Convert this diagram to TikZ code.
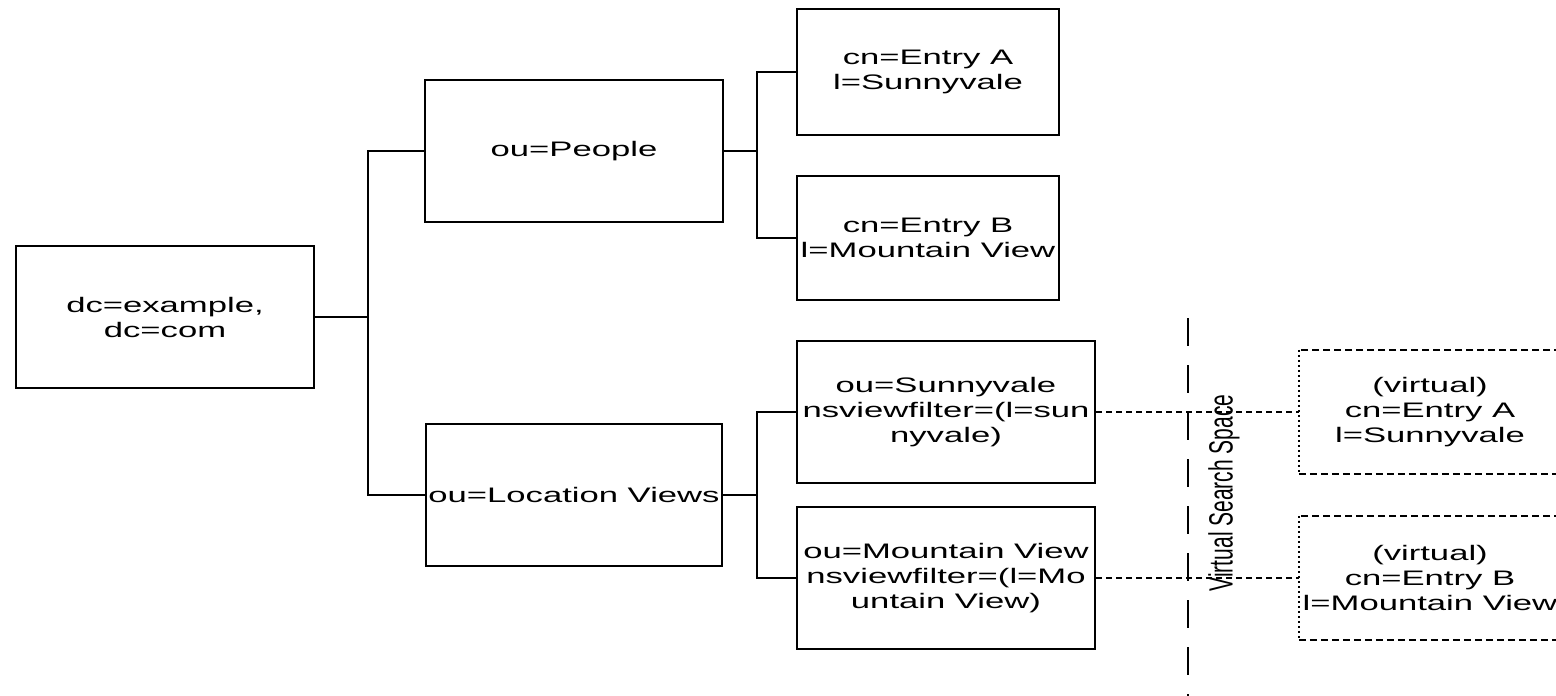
\documentclass[tikz,border=0pt]{standalone}
\usepackage{fontspec}
\setmainfont{Liberation Sans}[FakeStretch=1.65]
\newfontfamily\uprightlabel{Liberation Sans}
\begin{document}
\begin{tikzpicture}[x=1pt,y=-1pt,
  txt/.style={align=center, inner sep=0pt, font=\fontsize{21}{25}\selectfont},
  box/.style={txt, draw, line width=2pt, rectangle},
  ghost/.style={txt, rectangle},
  link/.style={line width=2pt},
  vlink/.style={line width=2pt, dash pattern=on 6pt off 4pt},
  vedge/.style={line width=2pt, dash pattern=on 7pt off 4pt},
  vside/.style={line width=2pt, dash pattern=on 2pt off 3pt},
  divider/.style={line width=2.2pt, dash pattern=on 28pt off 19pt}]
\clip (0,0) rectangle (1556,696);
\fill[white] (0,0) rectangle (1556,696);

% directory tree
\node[box, minimum width=298pt, minimum height=142pt] (root)  at (165,317)   {dc=example,\\dc=com};
\node[box, minimum width=298pt, minimum height=142pt] (people) at (574,151)  {ou=People};
\node[box, minimum width=296pt, minimum height=142pt] (locv)  at (574,495)   {ou=Location Views};
\node[box, minimum width=262pt, minimum height=126pt] (entA)  at (928,72)    {cn=Entry A\\l=Sunnyvale};
\node[box, minimum width=262pt, minimum height=124pt] (entB)  at (928,238)   {cn=Entry B\\l=Mountain View};
\node[box, minimum width=298pt, minimum height=142pt] (sunv)  at (946,412)   {ou=Sunnyvale\\nsviewfilter=(l=sun\\nyvale)};
\node[box, minimum width=298pt, minimum height=142pt] (mtnv)  at (946,578)   {ou=Mountain View\\nsviewfilter=(l=Mo\\untain View)};

% virtual entries
\node[ghost, minimum width=262pt, minimum height=124pt] (virtA) at (1430,412) {(virtual)\\cn=Entry A\\l=Sunnyvale};
\node[ghost, minimum width=262pt, minimum height=124pt] (virtB) at (1430,578) {(virtual)\\cn=Entry B\\l=Mountain View};
\foreach \v in {virtA,virtB}{
  \draw[vedge] (\v.north east) -- (\v.north west);
  \draw[vside] (\v.north west) -- (\v.south west);
  \draw[vedge] (\v.south west) -- (\v.south east);
}

% tree connectors
\coordinate (trunk) at (368,317);
\coordinate (pbr) at (757,151);
\coordinate (lbr) at (757,495);
\draw[link] (root.east) -- (trunk);
\draw[link] (people.west) -| (trunk) |- (locv.west);
\draw[link] (people.east) -- (pbr);
\draw[link] (entA.west) -| (pbr) |- (entB.west);
\draw[link] (locv.east) -- (lbr);
\draw[link] (sunv.west) -| (lbr) |- (mtnv.west);

% view filters to virtual entries
\draw[vlink] (sunv.east) -- (virtA.west);
\draw[vlink] (mtnv.east) -- (virtB.west);

% virtual search space boundary
\coordinate (septop) at (1188,318);
\coordinate (sepbot) at (1188,700);
\draw[divider] (septop) -- (sepbot);
\node[rotate=90, inner sep=0pt] (vss) at (1224,493)
  {\uprightlabel\fontsize{21}{25}\selectfont\scalebox{1}[1.6]{Virtual Search Space}};
\end{tikzpicture}
\end{document}
